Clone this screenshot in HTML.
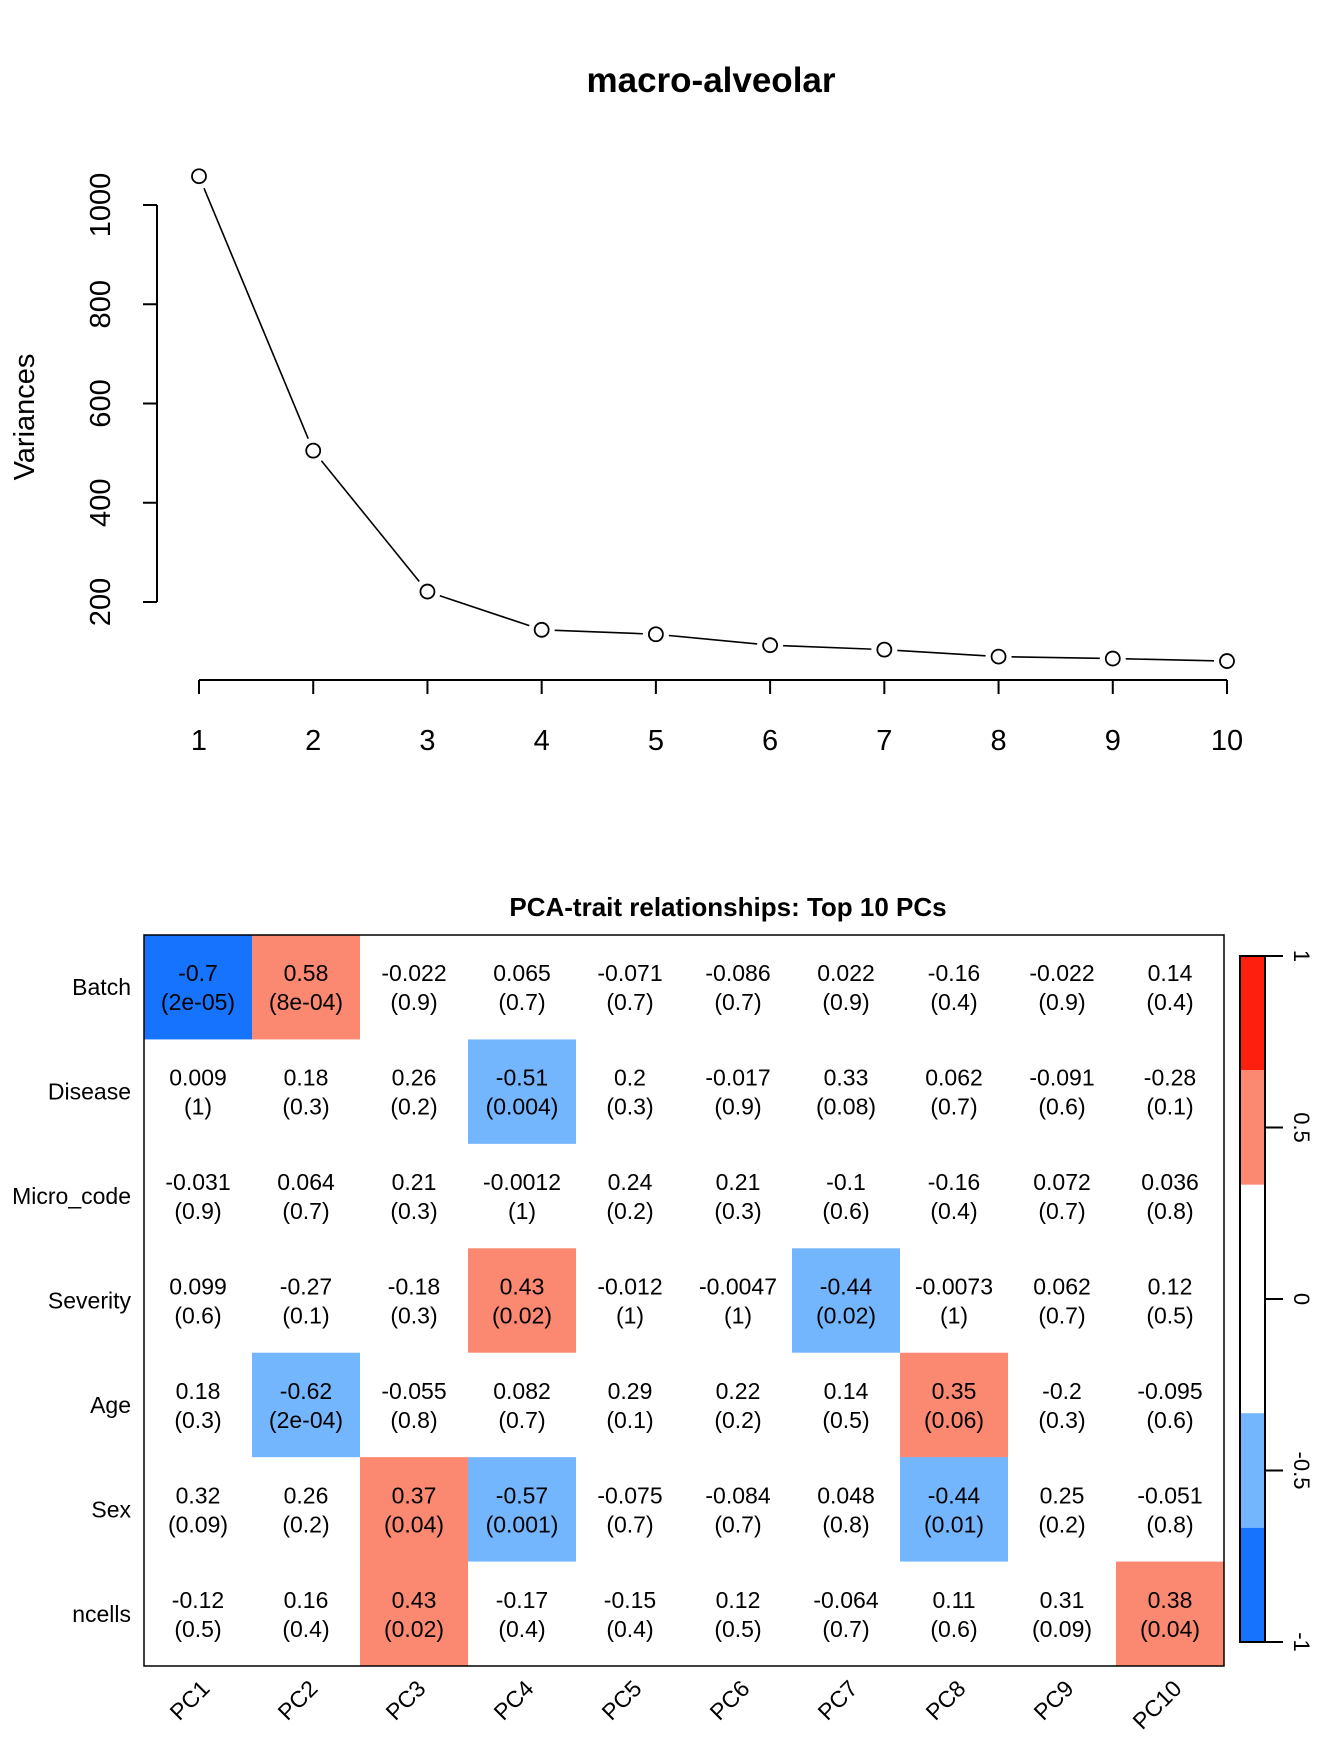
<!DOCTYPE html>
<html><head><meta charset="utf-8"><style>
body{margin:0;background:#fff}
svg text{font-family:"Liberation Sans",Arial,sans-serif}
</style></head><body>
<svg id="root" width="1344" height="1747" viewBox="0 0 1344 1747" xmlns="http://www.w3.org/2000/svg">
<rect width="1344" height="1747" fill="#fff"/>
<g id="scree"></g>
<g id="heat"></g>
</svg>
<script>
const pcs = [1,2,3,4,5,6,7,8,9,10];
const variances = [1058,505,221,144,135,113,104,90,86,81];
const yTicks = [200,400,600,800,1000];
const traits = ["Batch","Disease","Micro_code","Severity","Age","Sex","ncells"];
const pcLabels = ["PC1","PC2","PC3","PC4","PC5","PC6","PC7","PC8","PC9","PC10"];
const corr = [
[-0.7,0.58,-0.022,0.065,-0.071,-0.086,0.022,-0.16,-0.022,0.14],
[0.009,0.18,0.26,-0.51,0.2,-0.017,0.33,0.062,-0.091,-0.28],
[-0.031,0.064,0.21,-0.0012,0.24,0.21,-0.1,-0.16,0.072,0.036],
[0.099,-0.27,-0.18,0.43,-0.012,-0.0047,-0.44,-0.0073,0.062,0.12],
[0.18,-0.62,-0.055,0.082,0.29,0.22,0.14,0.35,-0.2,-0.095],
[0.32,0.26,0.37,-0.57,-0.075,-0.084,0.048,-0.44,0.25,-0.051],
[-0.12,0.16,0.43,-0.17,-0.15,0.12,-0.064,0.11,0.31,0.38]];
const pvals = [
["2e-05","8e-04","0.9","0.7","0.7","0.7","0.9","0.4","0.9","0.4"],
["1","0.3","0.2","0.004","0.3","0.9","0.08","0.7","0.6","0.1"],
["0.9","0.7","0.3","1","0.2","0.3","0.6","0.4","0.7","0.8"],
["0.6","0.1","0.3","0.02","1","1","0.02","1","0.7","0.5"],
["0.3","2e-04","0.8","0.7","0.1","0.2","0.5","0.06","0.3","0.6"],
["0.09","0.2","0.04","0.001","0.7","0.7","0.8","0.01","0.2","0.8"],
["0.5","0.4","0.02","0.4","0.4","0.5","0.7","0.6","0.09","0.04"]];
const cbTicks = [1,0.5,0,-0.5,-1];

const NS="http://www.w3.org/2000/svg";
function mk(parent,tag,attrs,text){const e=document.createElementNS(NS,tag);for(const k in attrs)e.setAttribute(k,attrs[k]);if(text!==undefined)e.textContent=text;parent.appendChild(e);return e;}

// scree
const s=document.getElementById('scree');
const xS=i=>199+(i-1)*(1227-199)/9;
const yS=v=>205-(v-1000)*(397/800);
let t=mk(s,'text',{x:711,y:92,'text-anchor':'middle','font-size':35,'font-weight':'bold'},'macro-alveolar');


let l=mk(s,'line',{x1:157,x2:157,y1:yS(1000),y2:yS(200),stroke:'#000','stroke-width':2});


yTicks.forEach(v=>{
 mk(s,'line',{x1:143,x2:157,y1:yS(v),y2:yS(v),stroke:'#000','stroke-width':2});
 const tx=mk(s,'text',{x:0,y:0,transform:`translate(110,${yS(v)}) rotate(-90)`,'text-anchor':'middle','font-size':29},String(v));
 
 
});
t=mk(s,'text',{x:0,y:0,transform:'translate(34,417) rotate(-90)','text-anchor':'middle','font-size':29},'Variances');


l=mk(s,'line',{x1:xS(1),x2:xS(10),y1:680,y2:680,stroke:'#000','stroke-width':2});


pcs.forEach(p=>{
 mk(s,'line',{x1:xS(p),x2:xS(p),y1:680,y2:694,stroke:'#000','stroke-width':2});
 const tx=mk(s,'text',{x:xS(p),y:750,'text-anchor':'middle','font-size':29},String(p));
 
 
});
for(let i=0;i<pcs.length-1;i++){
 const x1=xS(pcs[i]),y1=yS(variances[i]),x2=xS(pcs[i+1]),y2=yS(variances[i+1]);
 const d=Math.hypot(x2-x1,y2-y1),ux=(x2-x1)/d,uy=(y2-y1)/d,g=13;
 const ln=mk(s,'line',{x1:x1+ux*g,y1:y1+uy*g,x2:x2-ux*g,y2:y2-uy*g,stroke:'#000','stroke-width':1.6});
 
 
}
pcs.forEach((p,i)=>{
 const c=mk(s,'circle',{cx:xS(p),cy:yS(variances[i]),r:7,fill:'#fff',stroke:'#000','stroke-width':1.8});
 
 
});

// heatmap
const h=document.getElementById('heat');
const X0=144,X1=1224,Y0=935,Y1=1666;
const cw=(X1-X0)/10,ch=(Y1-Y0)/7;
function col(v){if(v<=-0.667)return'#1673fe';if(v<=-0.333)return'#74b6fe';if(v>=0.667)return'#ff1f0f';if(v>=0.333)return'#fb8870';return'#fff';}
t=mk(h,'text',{x:728,y:916,'text-anchor':'middle','font-size':26,'font-weight':'bold'},'PCA-trait relationships: Top 10 PCs');


corr.forEach((row,r)=>row.forEach((v,c)=>{
 const x=X0+c*cw,y=Y0+r*ch;
 const rc=mk(h,'rect',{x:x,y:y,width:cw+0.5,height:ch+0.5,fill:col(v)});
 
 
 const t1=mk(h,'text',{x:x+cw/2,y:y+ch/2-6,'text-anchor':'middle','font-size':23},String(v));
 
 
 const t2=mk(h,'text',{x:x+cw/2,y:y+ch/2+23,'text-anchor':'middle','font-size':23},'('+pvals[r][c]+')');
 
 
}));
const bx=mk(h,'rect',{x:X0,y:Y0,width:X1-X0,height:Y1-Y0,fill:'none',stroke:'#000','stroke-width':1.5});


traits.forEach((tr,r)=>{
 const tx=mk(h,'text',{x:131,y:Y0+r*ch+ch/2+8,'text-anchor':'end','font-size':23},tr);
 
 
});
pcLabels.forEach((p,c)=>{
 const cx=X0+c*cw+cw/2;
 const tx=mk(h,'text',{x:0,y:0,transform:`translate(${cx+13},${1690}) rotate(-45)`,'text-anchor':'end','font-size':23},p);
 
 
});
// colorbar
const CX=1240,CW=25,CY0=956,CY1=1642;
const yC=v=>CY0+(1-v)/2*(CY1-CY0);
const segs=[[1,0.667,'#ff1f0f'],[0.667,0.333,'#fb8870'],[0.333,-0.333,'#fff'],[-0.333,-0.667,'#74b6fe'],[-0.667,-1,'#1673fe']];
segs.forEach(sg=>{
 const rc=mk(h,'rect',{x:CX,y:yC(sg[0]),width:CW,height:yC(sg[1])-yC(sg[0]),fill:sg[2]});
 
 
});
mk(h,'rect',{x:CX,y:CY0,width:CW,height:CY1-CY0,fill:'none',stroke:'#000','stroke-width':2});
cbTicks.forEach(v=>{
 mk(h,'line',{x1:CX+CW,x2:1283,y1:yC(v),y2:yC(v),stroke:'#000','stroke-width':2});
 const tx=mk(h,'text',{x:0,y:0,transform:`translate(1294,${yC(v)}) rotate(90)`,'text-anchor':'middle','font-size':22},String(v));
 
 
});
</script>
</body></html>
